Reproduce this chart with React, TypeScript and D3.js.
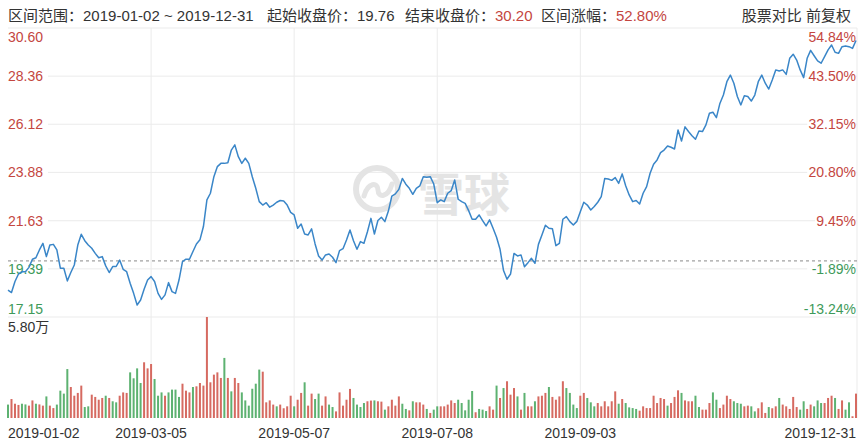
import React from "react";
import * as d3 from "d3";

const prices = [
  18.40, 18.29, 18.80, 19.15, 19.26, 19.26, 19.46, 19.84, 19.91, 20.27,
  20.58, 19.96, 20.50, 20.53, 20.27, 19.42, 19.42, 18.83, 19.22, 19.57,
  20.50, 21.00, 20.70, 20.50, 20.35, 20.11, 19.91, 19.96, 19.53, 19.22,
  19.50, 19.50, 19.80, 19.37, 19.26, 18.72, 18.25, 17.71, 17.94, 18.44,
  18.87, 19.03, 18.80, 18.25, 17.97, 18.18, 18.75, 18.33, 18.25, 18.87,
  19.73, 19.84, 19.84, 20.20, 20.55, 20.74, 21.36, 22.60, 22.91, 23.68,
  24.15, 24.30, 24.30, 24.33, 24.92, 25.16, 24.61, 24.30, 24.54, 24.30,
  23.68, 23.14, 22.52, 22.36, 22.47, 22.26, 22.36, 22.49, 22.57, 22.55,
  22.36, 22.02, 21.90, 21.28, 21.48, 21.01, 20.97, 21.25, 20.55, 19.99,
  19.80, 20.04, 20.08, 19.93, 19.68, 20.24, 20.33, 20.73, 21.20, 20.70,
  20.30, 20.66, 20.58, 21.12, 21.74, 21.01, 21.64, 21.79, 21.59, 22.08,
  22.78, 22.88, 23.09, 23.60, 23.33, 23.14, 22.86, 23.14, 23.25, 23.68,
  23.65, 23.68, 23.34, 22.47, 22.60, 22.52, 22.91, 23.03, 23.53, 22.63,
  22.52, 22.44, 22.10, 21.70, 21.70, 21.90, 21.64, 21.39, 21.67, 21.28,
  20.86, 20.30, 19.31, 18.91, 19.15, 20.11, 19.99, 20.04, 19.49, 19.68,
  19.88, 19.65, 20.53, 20.97, 21.42, 21.28, 21.26, 20.47, 20.58, 21.70,
  21.82, 21.59, 21.43, 21.60, 22.05, 22.49, 22.36, 22.13, 22.29, 22.49,
  22.75, 23.60, 23.57, 23.51, 23.64, 23.37, 23.81, 23.26, 22.83, 22.52,
  22.57, 22.41, 22.91, 23.22, 23.84, 24.26, 24.46, 24.80, 24.92, 25.11,
  25.05, 24.97, 25.85, 25.34, 26.00, 25.78, 25.59, 25.42, 25.81, 25.78,
  26.09, 26.63, 26.68, 26.43, 27.09, 27.48, 28.10, 28.41, 28.03, 27.41,
  27.02, 27.45, 27.41, 27.20, 27.48, 28.10, 28.41, 28.03, 27.76, 28.18,
  28.65, 28.60, 28.65, 28.44, 29.19, 29.38, 29.11, 28.65, 28.29, 29.19,
  29.56, 29.31, 29.07, 28.96, 29.27, 29.58, 29.81, 29.47, 29.42, 29.73,
  29.76, 29.73, 29.65, 30.02,
];

// volume in 万
const volumes = [
  0.77, 1.09, 0.82, 0.75, 0.82, 0.78, 0.71, 1.01, 0.82, 0.78,
  0.71, 1.24, 0.71, 0.57, 0.77, 1.57, 1.40, 2.81, 1.78, 1.28,
  1.44, 1.86, 0.63, 0.67, 1.34, 1.21, 1.05, 1.15, 1.28, 1.15,
  0.96, 0.90, 1.28, 1.47, 1.44, 2.62, 2.28, 2.85, 2.01, 3.20,
  2.85, 3.10, 2.24, 1.28, 1.47, 1.28, 1.47, 1.63, 1.63, 1.21,
  1.97, 1.57, 1.47, 1.78, 1.82, 2.01, 1.86, 5.80, 2.05, 2.49,
  2.62, 2.30, 3.45, 2.30, 1.53, 2.30, 2.01, 1.47, 1.01, 0.71,
  1.68, 1.97, 2.78, 2.66, 0.90, 1.01, 0.77, 0.67, 0.77, 0.56,
  0.67, 1.28, 0.67, 1.05, 1.44, 2.05, 0.71, 1.40, 1.09, 1.40,
  0.71, 1.24, 0.77, 0.63, 0.38, 1.47, 0.71, 1.05, 1.67, 1.15,
  0.77, 0.63, 0.86, 0.96, 1.00, 1.01, 0.96, 0.94, 0.48, 0.67,
  1.05, 0.71, 1.24, 0.82, 0.52, 0.44, 0.96, 0.90, 0.90, 0.77,
  0.52, 0.29, 0.48, 0.67, 0.67, 0.67, 0.77, 1.01, 0.86, 1.05,
  0.86, 0.44, 1.05, 1.55, 0.33, 0.52, 0.48, 0.40, 0.67, 0.48,
  1.86, 1.15, 1.72, 2.11, 1.34, 1.72, 1.24, 0.48, 1.44, 0.67,
  0.67, 0.96, 1.24, 1.28, 1.44, 1.78, 1.21, 1.05, 1.24, 2.11,
  1.72, 1.44, 0.77, 0.57, 1.28, 1.44, 1.15, 0.90, 0.67, 0.86,
  0.67, 0.96, 0.67, 0.96, 1.53, 0.82, 1.09, 0.86, 0.61, 0.57,
  0.52, 0.42, 0.67, 0.57, 0.57, 1.28, 0.86, 1.15, 1.09, 0.71,
  0.86, 1.21, 1.59, 1.44, 1.01, 0.96, 0.96, 1.28, 0.63, 0.48,
  0.48, 0.86, 1.47, 1.05, 0.57, 0.77, 1.28, 1.09, 0.96, 0.86,
  0.82, 0.67, 0.71, 0.67, 0.38, 0.56, 0.90, 0.29, 0.63, 0.56,
  0.67, 1.15, 0.77, 0.67, 0.52, 1.21, 0.63, 0.48, 0.96, 0.52,
  0.77, 0.67, 1.01, 0.86, 0.86, 1.15, 1.28, 1.15, 0.52, 1.01,
  0.48, 0.90, 0.10, 1.40,
];

// r = up day (red), g = down day (green)
const volumeDirection = (
  "grrrggrrgr" + "rgrrggggrr" + "rrggrrrrgr" + "ggrrrggggr" + "rrgggrgggg" +
  "rrrgrrrrrr" + "rrgrgrrggg" + "gggrrrrgrr" + "rrgr" +
  "rgrrggrrgg" + "rrrrrggggr" + "rgrrgrrrrg" + "grgrrrgrgg" + "rrrrrggggg" +
  "rgggrrgrgr" + "rrgrgrrgrr" + "rgrrrrgggg" + "rrgggr" +
  "rrrrrgrggg" + "grrrrrrrrg" + "rrrgrrrggr" + "rrggrrrrgg" + "grrggrrrgr" +
  "rgrrrrrggr" + "rgggrrrgrr" + "ggrr"
).split("");

const priceTicks = ["30.60", "28.36", "26.12", "23.88", "21.63", "19.39", "17.15"];
const pctTicks = ["54.84%", "43.50%", "32.15%", "20.80%", "9.45%", "-1.89%", "-13.24%"];
const dateTicks = [
  { index: 0, label: "2019-01-02" },
  { index: 41, label: "2019-03-05" },
  { index: 82, label: "2019-05-07" },
  { index: 123, label: "2019-07-08" },
  { index: 164, label: "2019-09-03" },
  { index: 243, label: "2019-12-31" },
];
const startClose = 19.76;
const volumeMaxLabel = "5.80万";
const volumeMax = 5.8;

const W = 864;
const H = 445;
const L = 8;
const R = 857;
const TOP = 28;
const PB = 317;
const VB = 418;

const RED = "#c4463f";
const GREEN = "#3e9a5a";
const BAR_RED = "#d66a61";
const BAR_GREEN = "#5db271";
const LINE = "#3a86c8";
const GRID = "#ebebeb";
const FONT = "'Liberation Sans', Arial, 'Noto Sans CJK SC', sans-serif";

export default function App() {
  const n = prices.length;
  const x = d3.scaleLinear().domain([0, n - 1]).range([8, 856]);
  const y = d3
    .scaleLinear()
    .domain([+priceTicks[priceTicks.length - 1], +priceTicks[0]])
    .range([PB, TOP]);
  const yv = d3.scaleLinear().domain([0, volumeMax]).range([VB, PB]);
  const line = d3
    .line<number>()
    .x((_, i) => x(i))
    .y((d) => y(d))
    .curve(d3.curveLinear);

  const nt = priceTicks.length;
  const labelY = (k: number) => {
    const yy = y(+priceTicks[k]);
    if (k === 0) return yy + 9;
    if (k === nt - 1) return yy - 8;
    return yy;
  };
  const tickColor = (k: number) => (+priceTicks[k] >= startClose ? RED : GREEN);

  return (
    <svg
      width={W}
      height={H}
      style={{ position: "absolute", left: 0, top: 0, background: "#fff" }}
      fontFamily={FONT}
    >
      <rect x={0} y={0} width={W} height={H} fill="#fff" />
      {/* header */}
      <g fontSize={15} dominantBaseline="central">
        <text x={8} y={15} fill="#333">
          区间范围：<tspan>2019-01-02 ~ 2019-12-31</tspan>
        </text>
        <text x={267} y={15} fill="#333">
          起始收盘价：<tspan>19.76</tspan>
        </text>
        <text x={405} y={15} fill="#333">
          结束收盘价：<tspan fill={RED}>30.20</tspan>
        </text>
        <text x={541} y={15} fill="#333">
          区间涨幅：<tspan fill={RED}>52.80%</tspan>
        </text>
        <text x={851} y={15} fill="#333" textAnchor="end">股票对比 前复权</text>
      </g>

      {/* horizontal grid */}
      {priceTicks.map((t, k) => (
        <line key={"h" + k} x1={L} x2={R} y1={y(+t)} y2={y(+t)} stroke={GRID} strokeWidth={1} />
      ))}
      {/* vertical grid */}
      {dateTicks
        .filter((d) => d.index > 0 && d.index < n - 1)
        .map((d) => (
          <line key={"v" + d.index} x1={x(d.index)} x2={x(d.index)} y1={TOP} y2={VB} stroke={GRID} strokeWidth={1} />
        ))}
      <line x1={R} x2={R} y1={TOP} y2={VB} stroke={GRID} strokeWidth={1} />

      {/* watermark */}
      <g>
        <circle cx={377} cy={189} r={21} fill="none" stroke="#e4e4e4" strokeWidth={6} />
        <path d="M364,196 C368,182 378,182 378,190 C378,198 388,198 392,184" fill="none" stroke="#e4e4e4" strokeWidth={5} strokeLinecap="round" />
        <text x={418} y={191} fontSize={46} fill="#e4e4e4" dominantBaseline="central" fontWeight="bold" fontFamily="'Noto Sans CJK SC', sans-serif">雪球</text>
      </g>

      {/* axis labels with white backgrounds */}
      {priceTicks.map((t, k) => {
        const ly = labelY(k);
        const mid = k > 0 && k < nt - 1;
        return (
          <g key={"l" + k} fontSize={14}>
            {mid && <rect x={L} y={ly - 7} width={t.length * 7.6 + 2} height={14} fill="#fff" />}
            <text x={L} y={ly} fill={tickColor(k)} dominantBaseline="central">{t}</text>
          </g>
        );
      })}
      {pctTicks.map((t, k) => {
        const ly = labelY(k);
        const mid = k > 0 && k < nt - 1;
        const w = t.length * 7.8;
        return (
          <g key={"r" + k} fontSize={14}>
            {mid && <rect x={R - 1 - w - 2} y={ly - 7} width={w + 2} height={14} fill="#fff" />}
            <text x={R - 1} y={ly} fill={tickColor(k)} textAnchor="end" dominantBaseline="central">{t}</text>
          </g>
        );
      })}

      {/* reference dashed line */}
      <line x1={L} x2={R} y1={y(startClose)} y2={y(startClose)} stroke="#8a8a8a" strokeWidth={1} strokeDasharray="3,3" />

      {/* price line */}
      <path d={line(prices) || ""} fill="none" stroke={LINE} strokeWidth={1.5} strokeLinejoin="round" />

      {/* volume */}
      <text x={L} y={327} fontSize={14} fill="#333" dominantBaseline="central">{volumeMaxLabel}</text>
      {volumes.map((v, i) => (
        <rect
          key={"b" + i}
          x={x(i) - 1}
          y={yv(v)}
          width={2}
          height={VB - yv(v)}
          fill={volumeDirection[i] === "g" ? BAR_GREEN : BAR_RED}
        />
      ))}

      {/* date labels */}
      {dateTicks.map((d, k) => (
        <text
          key={"d" + k}
          x={k === 0 ? L : k === dateTicks.length - 1 ? R - 1 : x(d.index)}
          y={433}
          fontSize={14}
          fill="#333"
          dominantBaseline="central"
          textAnchor={k === 0 ? "start" : k === dateTicks.length - 1 ? "end" : "middle"}
        >
          {d.label}
        </text>
      ))}
    </svg>
  );
}
